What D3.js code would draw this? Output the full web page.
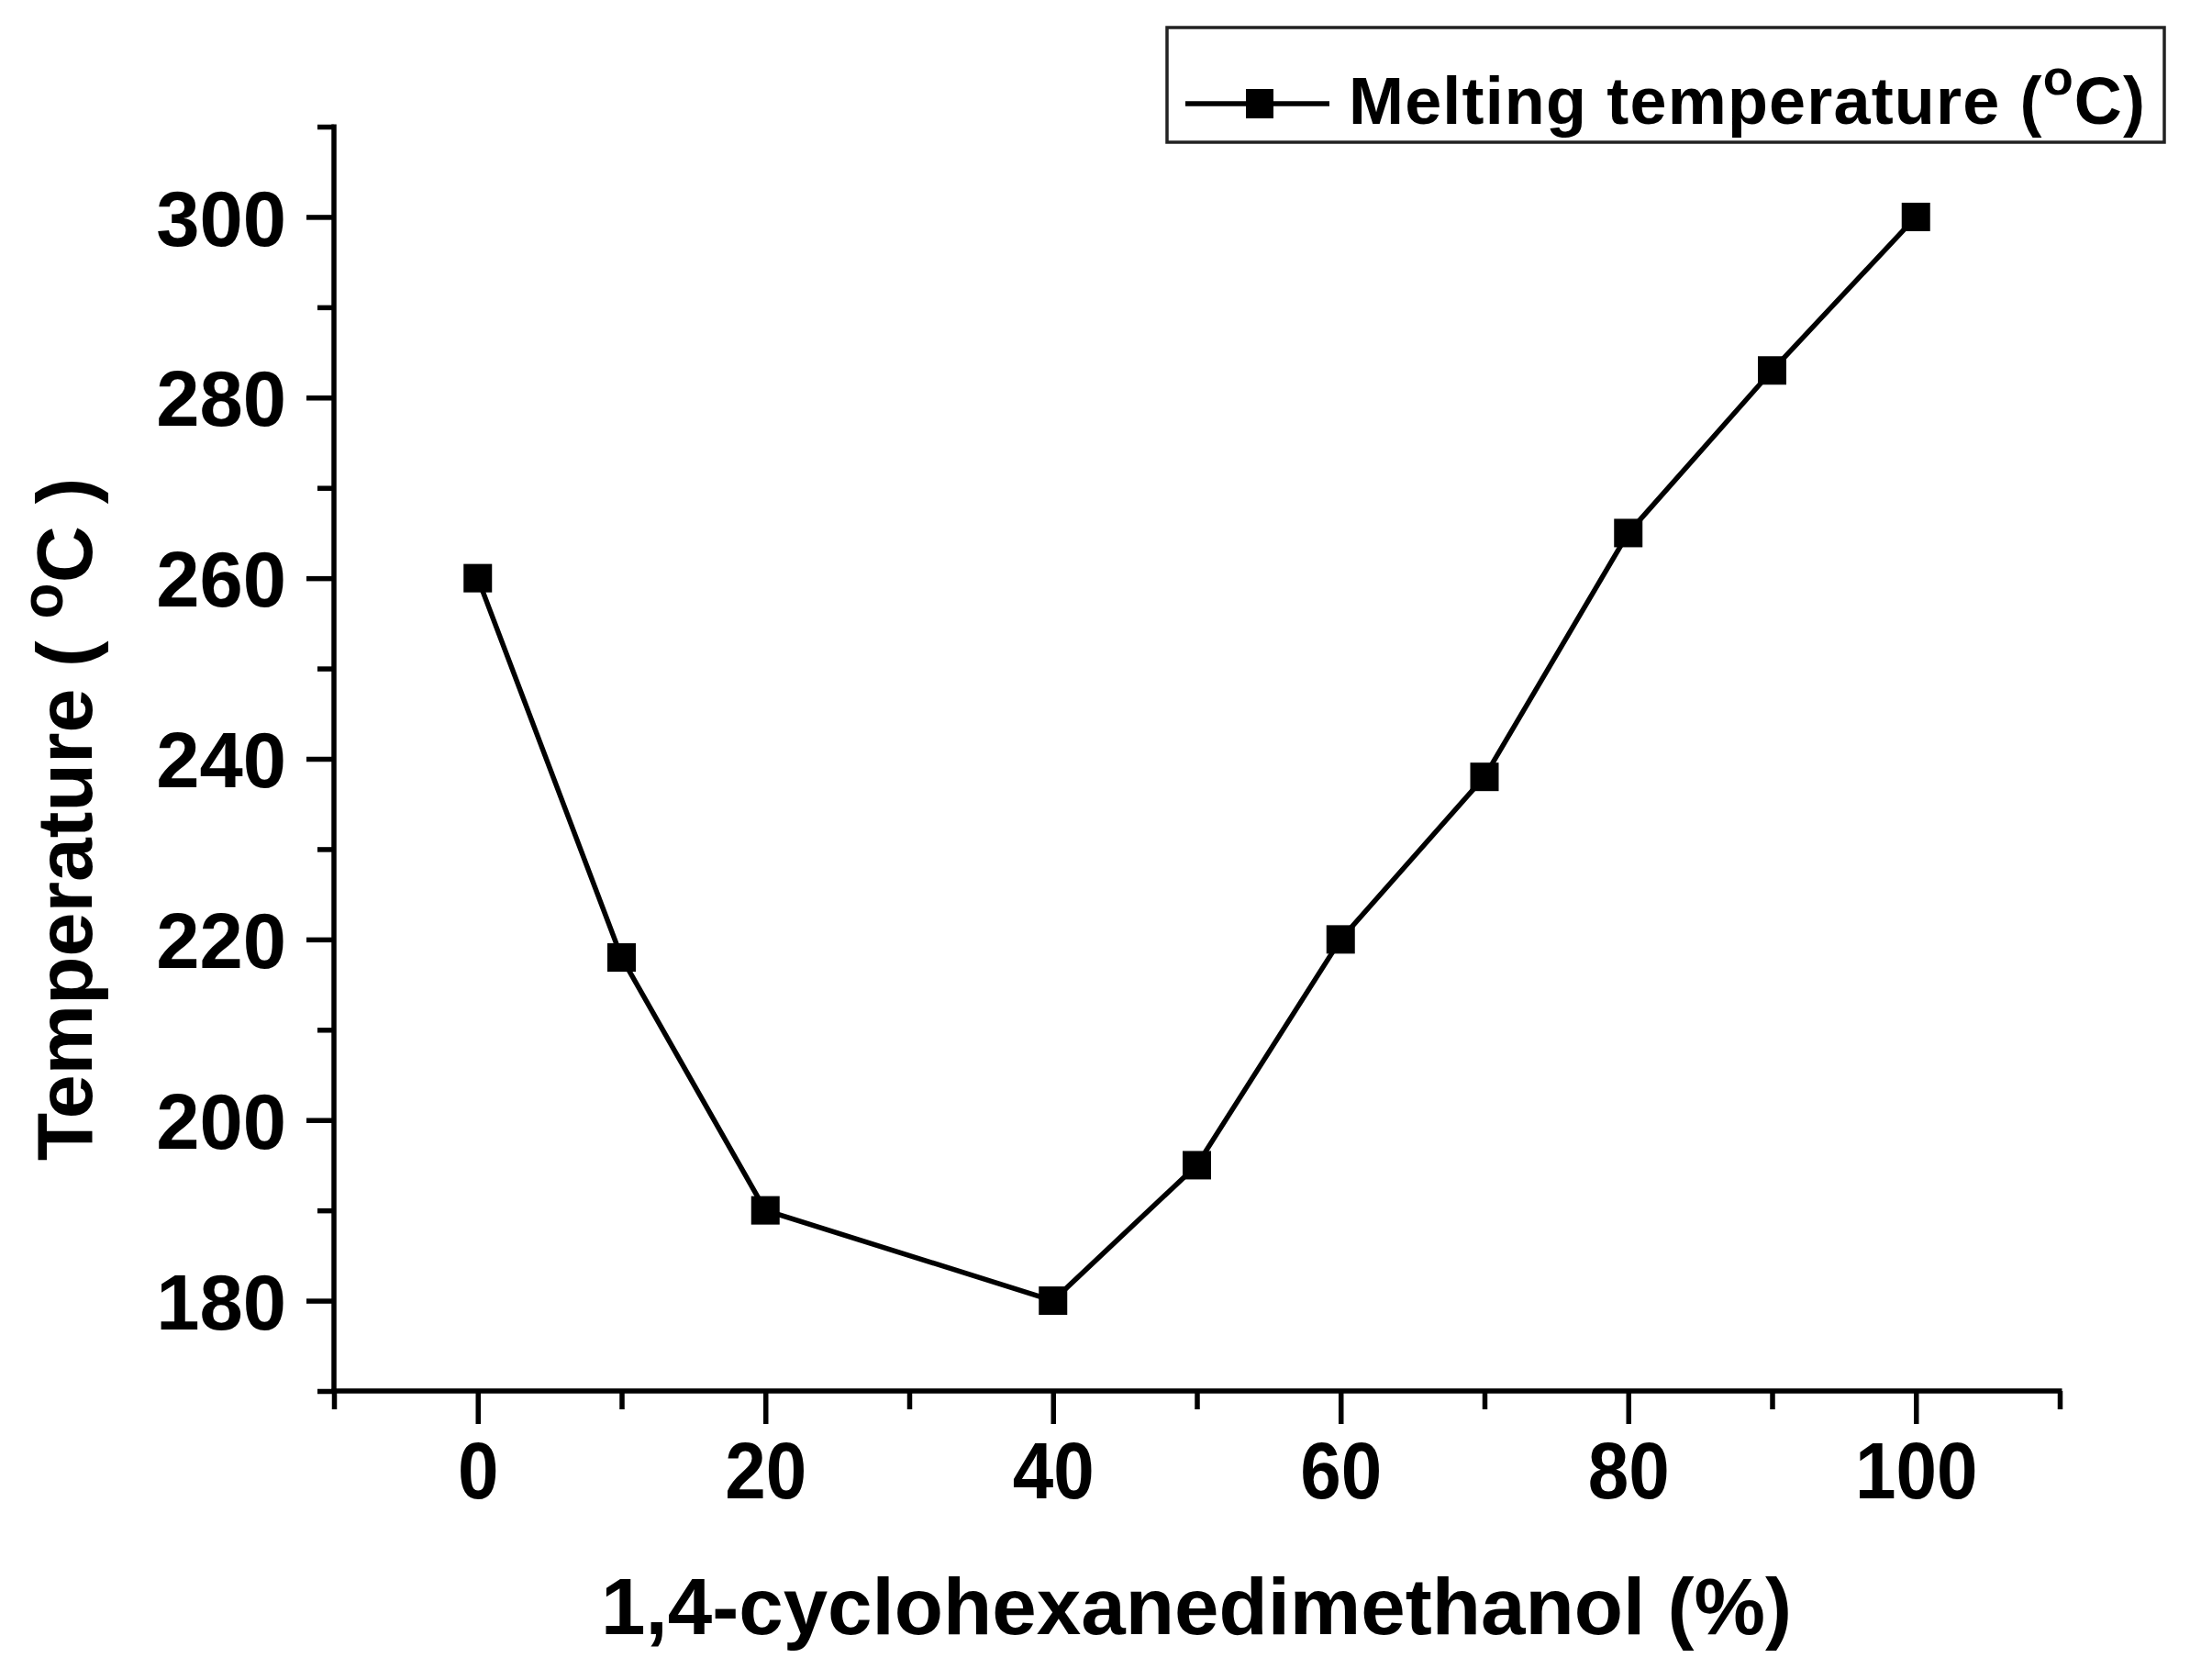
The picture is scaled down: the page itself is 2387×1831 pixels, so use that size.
<!DOCTYPE html>
<html>
<head>
<meta charset="utf-8">
<script src="https://cdn.jsdelivr.net/npm/d3@7"></script>
<style>
  body { margin: 0; background: #fff; }
  text { font-family: "Liberation Sans", Arial, sans-serif; font-weight: bold; fill: #000; }
</style>
</head>
<body>
<svg width="2387" height="1831"></svg>
<script>
// data
const cyclohexanedimethanol = [0, 10, 20, 40, 50, 60, 70, 80, 90, 100]
const meltingTemp = [260, 218, 190, 180, 195, 220, 238, 265, 283, 300]
const xTicks = [-10, 0, 10, 20, 30, 40, 50, 60, 70, 80, 90, 100, 110]
const yTicks = [170, 180, 190, 200, 210, 220, 230, 240, 250, 260, 270, 280, 290, 300, 310]
const xLabelTicks = [0, 20, 40, 60, 80, 100]
const yLabelTicks = [180, 200, 220, 240, 260, 280, 300]
const seriesName = 'Melting temperature'

const svg = d3.select('svg')
const data = cyclohexanedimethanol.map((x, i) => ({ x, y: meltingTemp[i] }))

const xScale = d3.scaleLinear().domain([-10, 110]).range([364, 2245])
const yScale = d3.scaleLinear().domain([170, 310]).range([1516, 138])

const axisWidth = 5.5

// x axis
const xAxis = d3.axisBottom(xScale)
  .tickValues(xTicks)
  .tickSizeOuter(0)
  .tickSize(20)
  .tickFormat(d => xLabelTicks.includes(d) ? d : '')

const gx = svg.append('g')
  .attr('transform', `translate(0,${yScale(170)})`)
  .call(xAxis)
gx.select('.domain').attr('stroke', '#000').attr('stroke-width', axisWidth)
  .attr('d', `M${xScale(-10) - 2.5},0H${xScale(110) + 2.5}`)
gx.selectAll('.tick line').attr('stroke', '#000').attr('stroke-width', axisWidth)
  .attr('y2', d => xLabelTicks.includes(d) ? 36 : 20)
gx.selectAll('.tick text')
  .attr('y', 117)
  .attr('dy', 0)
  .style('font-size', '88px')
  .attr('textLength', d => xLabelTicks.includes(d) ? String(d).length * 44.5 : null)
  .attr('lengthAdjust', 'spacingAndGlyphs')

// y axis
const yAxis = d3.axisLeft(yScale)
  .tickValues(yTicks)
  .tickSizeOuter(0)
  .tickSize(18)
  .tickFormat(d => yLabelTicks.includes(d) ? d : '')

const gy = svg.append('g')
  .attr('transform', `translate(${xScale(-10)},0)`)
  .call(yAxis)
gy.select('.domain').attr('stroke', '#000').attr('stroke-width', axisWidth)
  .attr('d', `M0,${yScale(310) - 2.5}V${yScale(170) + 2.5}`)
gy.selectAll('.tick line').attr('stroke', '#000').attr('stroke-width', axisWidth)
  .attr('x2', d => yLabelTicks.includes(d) ? -30 : -18)
gy.selectAll('.tick text')
  .attr('x', -52)
  .attr('dy', '0.36em')
  .style('font-size', '85px')

// line + markers
const line = d3.line().x(d => xScale(d.x)).y(d => yScale(d.y))
svg.append('path')
  .datum(data)
  .attr('d', line)
  .attr('fill', 'none')
  .attr('stroke', '#000')
  .attr('stroke-width', 5.5)

const markerSize = 31
svg.selectAll('rect.marker')
  .data(data)
  .enter().append('rect')
  .attr('class', 'marker')
  .attr('x', d => xScale(d.x) - markerSize / 2)
  .attr('y', d => yScale(d.y) - markerSize / 2)
  .attr('width', markerSize)
  .attr('height', markerSize)
  .attr('fill', '#000')

// axis titles
svg.append('text')
  .attr('x', 1304)
  .attr('y', 1781)
  .attr('text-anchor', 'middle')
  .style('font-size', '88px')
  .attr('textLength', 1298)
  .attr('lengthAdjust', 'spacingAndGlyphs')
  .text('1,4-cyclohexanedimethanol (%)')

const yTitle = svg.append('text')
  .attr('transform', 'translate(100,893) rotate(-90)')
  .attr('text-anchor', 'middle')
  .style('font-size', '86px')
yTitle.append('tspan').text('Temperature ( ')
yTitle.append('tspan').attr('dy', -32).style('font-size', '64px').text('o')
yTitle.append('tspan').attr('dy', 32).text('C )')

// legend
const legend = svg.append('g')
legend.append('rect')
  .attr('x', 1272).attr('y', 30)
  .attr('width', 2359 - 1272).attr('height', 125)
  .attr('fill', '#fff')
  .attr('stroke', '#222')
  .attr('stroke-width', 3.5)
legend.append('line')
  .attr('x1', 1292).attr('x2', 1449)
  .attr('y1', 113).attr('y2', 113)
  .attr('stroke', '#000').attr('stroke-width', 5.5)
legend.append('rect')
  .attr('x', 1373 - 15).attr('y', 113 - 16)
  .attr('width', 30).attr('height', 32)
  .attr('fill', '#000')
const legText = legend.append('text')
  .attr('x', 1470)
  .attr('y', 135)
  .style('font-size', '72px')
  .attr('textLength', 868)
  .attr('lengthAdjust', 'spacing')
legText.append('tspan').text(seriesName + ' (')
legText.append('tspan').attr('dy', -32).style('font-size', '54px').text('o')
legText.append('tspan').attr('dy', 32).text('C)')
</script>
</body>
</html>
